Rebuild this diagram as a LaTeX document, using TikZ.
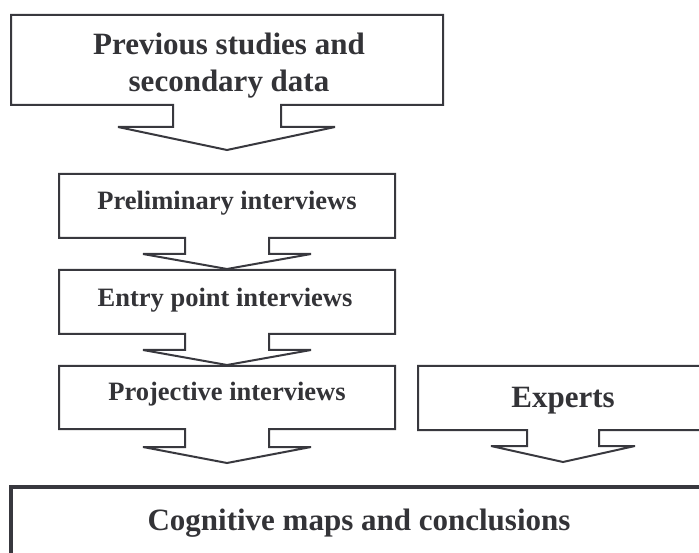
\documentclass[tikz,border=0pt]{standalone}
\usepackage{fontspec}
\setmainfont{Liberation Serif}
\definecolor{ink}{HTML}{38383E}
\definecolor{txt}{HTML}{333337}
\tikzset{
  boxline/.style={draw=ink, line width=2pt, line join=miter, miter limit=2, fill=white},
  thickline/.style={draw=ink, line width=3.8pt, fill=white},
  bigtxt/.style={font=\bfseries\fontsize{31}{37}\selectfont, text=txt, inner sep=0pt, anchor=base, align=center},
  midtxt/.style={font=\bfseries\fontsize{26.5}{31}\selectfont, text=txt, inner sep=0pt, anchor=base},
}
% callout: #1 L, #2 T, #3 R, #4 B, #5 nL, #6 nR, #7 nb, #8 aL, #9 aR ; tip given separately
\newcommand{\callout}[9]{%
  \path[boxline] (#1,#2) -- (#3,#2) -- (#3,#4) -- (#6,#4) -- (#6,#7) -- (#9,#7)
    -- ({(#5+#6)/2},\tipy) -- (#8,#7) -- (#5,#7) -- (#5,#4) -- (#1,#4) -- cycle;}
\begin{document}
\begin{tikzpicture}[x=1pt,y=-1pt]
\useasboundingbox (0,0) rectangle (699,553);
\clip (0,0) rectangle (699,553);
\fill[white] (0,0) rectangle (699,553);
% callout boxes
\def\tipy{150}\callout{11}{15}{443}{105}{173}{281}{127}{118}{335}
\def\tipy{269}\callout{59}{174}{395}{238}{185}{269}{254}{143}{311}
\def\tipy{365}\callout{59}{270}{395}{334}{185}{269}{350}{143}{311}
\def\tipy{463}\callout{59}{366}{395}{429}{185}{269}{447}{143}{311}
\def\tipy{462}\callout{418}{366}{708}{430}{527}{599}{446}{491}{635}
% final box
\path[thickline] (11,620) -- (11,487) -- (720,487);
% texts
\node[bigtxt] (prev) at (229,92) {Previous studies and\\secondary data};
\node[midtxt] (prel) at (227,210) {Preliminary interviews};
\node[midtxt] (entry) at (225,307) {Entry point interviews};
\node[midtxt] (proj) at (227,400) {Projective interviews};
\node[bigtxt] (exp) at (563,407) {Experts};
\node[bigtxt] (cog) at (359,530) {Cognitive maps and conclusions};
\end{tikzpicture}
\end{document}
